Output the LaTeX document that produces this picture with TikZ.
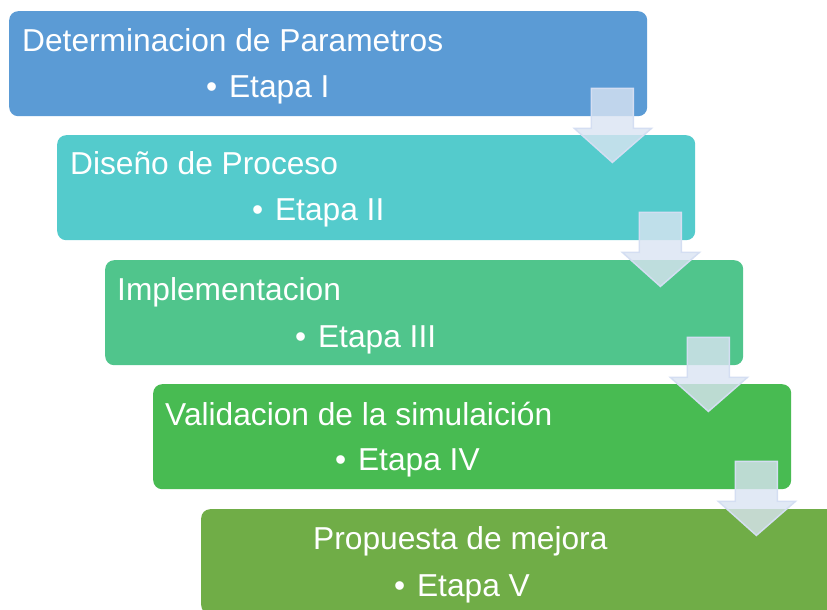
\documentclass[tikz,border=0pt]{standalone}
\usepackage{fontspec}
\setmainfont{Liberation Sans}
\usepackage{tikz}
\usetikzlibrary{positioning, calc}

\definecolor{boxA}{RGB}{91,155,213}
\definecolor{boxB}{RGB}{84,203,204}
\definecolor{boxC}{RGB}{80,197,140}
\definecolor{boxD}{RGB}{72,187,82}
\definecolor{boxE}{RGB}{112,173,71}
\definecolor{arrowfill}{RGB}{218,228,242}
\definecolor{arrowline}{RGB}{212,222,242}

\tikzset{
  stagebox/.style={rectangle, rounded corners=9pt, minimum width=638pt, minimum height=105pt, inner sep=0pt, anchor=north west},
  stagetext/.style={anchor=base west, inner sep=0pt, text=white, font=\fontsize{31.7}{36}\selectfont},
  downarrow/.style={fill=arrowfill, fill opacity=0.8, draw=arrowline, line width=1.5pt, line join=miter}
}

\begin{document}
\begin{tikzpicture}[x=1pt, y=-1pt]
                  \useasboundingbox (0,0) rectangle (827,610);
                  \clip (0,0) rectangle (827,610);

                  % Boxes
                  \foreach \i/\x/\y/\col in {1/9/11/boxA, 2/57/135/boxB, 3/105/260/boxC, 4/153/384/boxD, 5/201/509/boxE}
                  \node[stagebox, fill=\col] (box\i) at (\x,\y) {};

                  % Texts
                  \node[stagetext] (title1) at ($(box1.north west)+(13,41)$) {Determinacion de Parametros};
                  \node[stagetext] (title2) at ($(box2.north west)+(13,39)$) {Diseño de Proceso};
                  \node[stagetext] (title3) at ($(box3.north west)+(12,40)$) {Implementacion};
                  \node[stagetext] (title4) at ($(box4.north west)+(12,41)$) {Validacion de la simulaición};
                  \node[stagetext] (title5) at ($(box5.north west)+(112,40)$) {Propuesta de mejora};
                  \foreach \i/\dx/\dy/\n in {1/197/86/I, 2/195/85/II, 3/190/87/III, 4/182/86/IV, 5/193/87/V}
                  \node[stagetext] (step\i) at ($(box\i.north west)+(\dx,\dy)$) {•\hspace{3pt} Etapa \n};

                  % Arrows
                  \foreach \i in {1,2,3,4}
                  \draw[downarrow] ($(box\i.south east)+(-56,-28)$) -- ($(box\i.south east)+(-14,-28)$)
                    -- ($(box\i.south east)+(-14,12)$) -- ($(box\i.south east)+(4,12)$)
                    -- ($(box\i.south east)+(-35,46)$) -- ($(box\i.south east)+(-73,12)$)
                    -- ($(box\i.south east)+(-56,12)$) -- cycle;
              \end{tikzpicture}
\end{document}
